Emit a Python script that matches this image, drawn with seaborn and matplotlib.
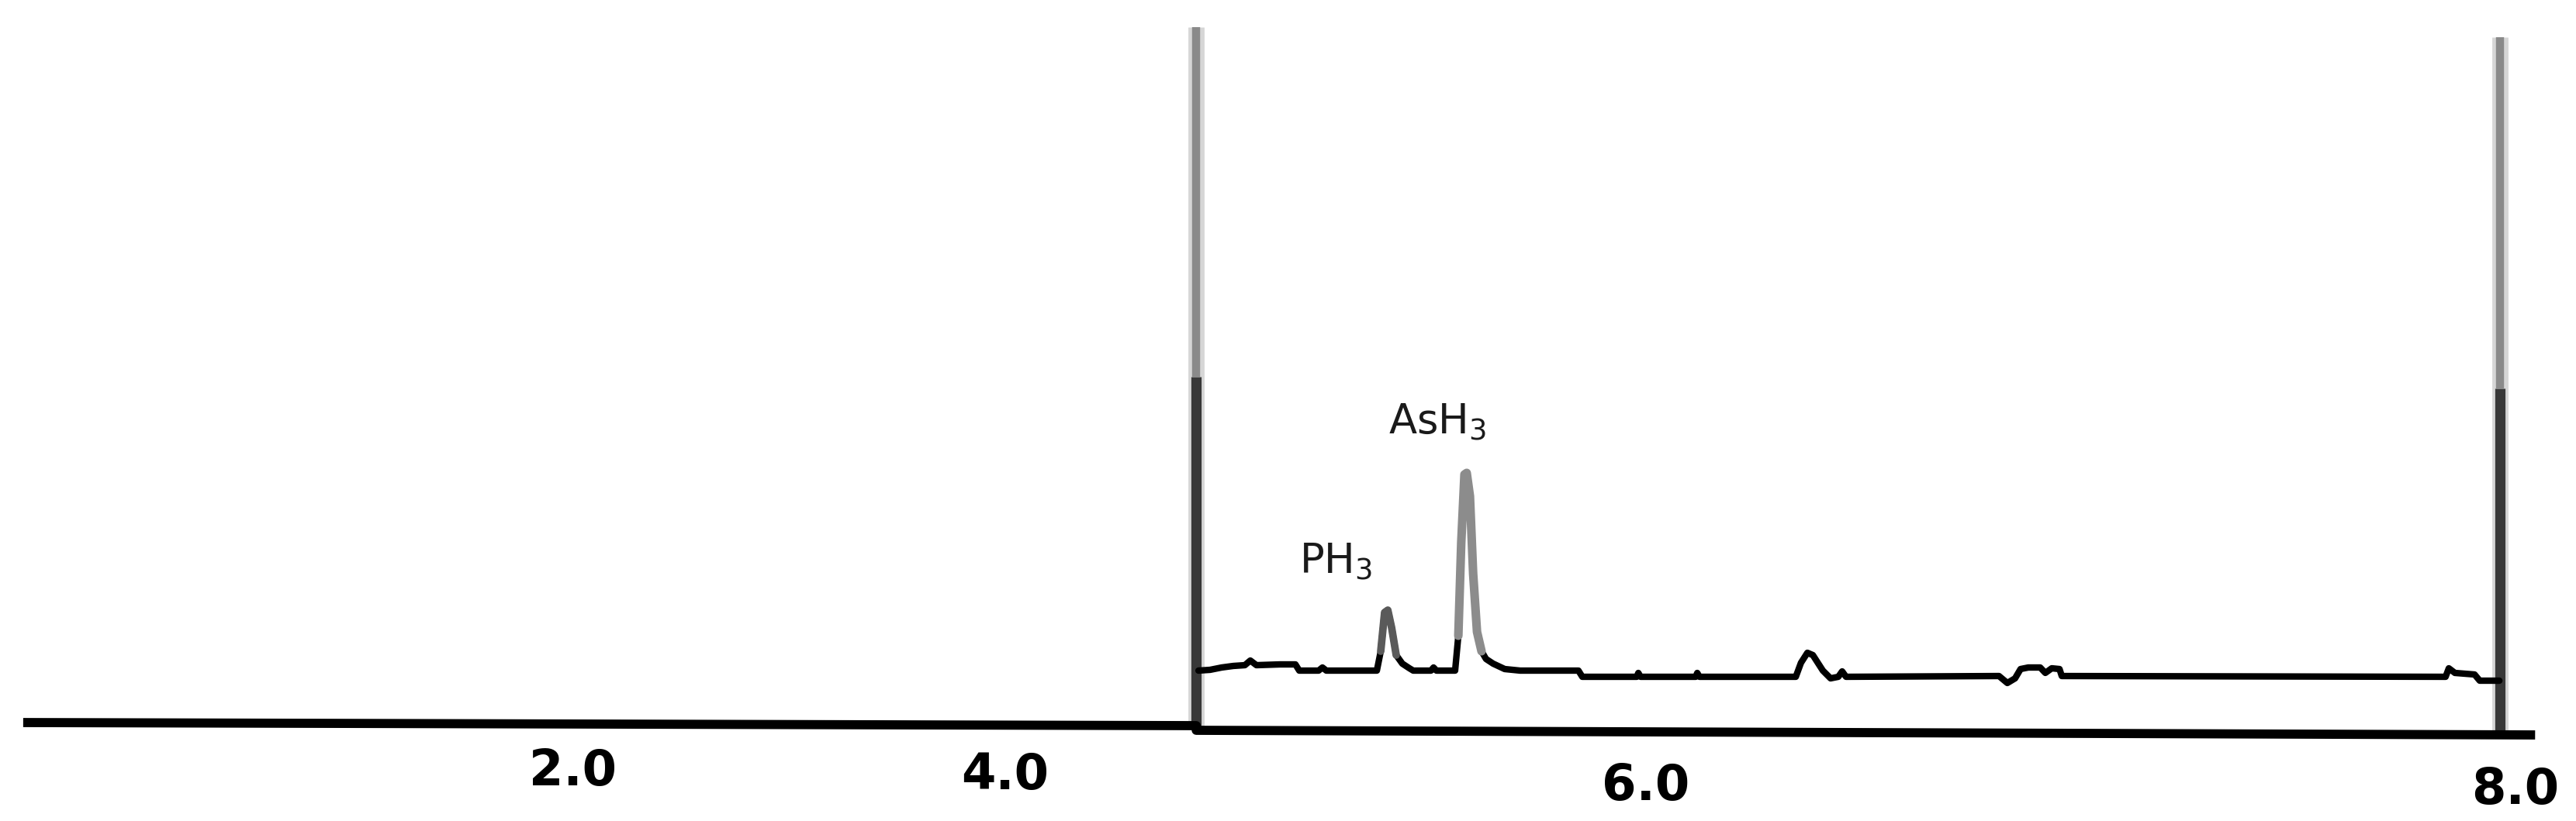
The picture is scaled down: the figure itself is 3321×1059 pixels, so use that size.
import matplotlib
matplotlib.use("Agg")
import matplotlib.pyplot as plt
import seaborn as sns
import numpy as np
import pandas as pd

# ---------------- data ----------------
# detector trace: retention time (min) and signal (arbitrary units)
trace_time = [3.722, 3.758, 3.794, 3.830, 3.866, 3.883, 3.902, 3.975, 4.023, 4.035,
              4.095, 4.107, 4.119, 4.276, 4.288, 4.300, 4.310, 4.322, 4.336, 4.355,
              4.377, 4.389, 4.444, 4.452, 4.461, 4.519, 4.529, 4.538, 4.548, 4.555,
              4.565, 4.575, 4.587, 4.601, 4.615, 4.637, 4.673, 4.721, 4.902, 4.914,
              5.083, 5.088, 5.095, 5.266, 5.271, 5.278, 5.577, 5.593, 5.613, 5.630,
              5.661, 5.685, 5.709, 5.721, 5.733, 6.208, 6.234, 6.258, 6.275, 6.299,
              6.336, 6.352, 6.372, 6.396, 6.403, 7.595, 7.605, 7.624, 7.685, 7.701,
              7.762]
trace_signal = [7.5, 7.6, 7.9, 8.1, 8.2, 8.8, 8.2, 8.3, 8.3, 7.5,
                7.5, 7.9, 7.5, 7.5, 10.0, 15.0, 15.3, 13.0, 9.5, 8.4,
                7.8, 7.5, 7.5, 7.9, 7.5, 7.5, 12.0, 24.0, 32.8, 33.0,
                30.0, 20.0, 12.5, 10.0, 9.0, 8.4, 7.7, 7.5, 7.5, 6.7,
                6.7, 7.2, 6.7, 6.7, 7.2, 6.7, 6.7, 8.5, 9.8, 9.5,
                7.5, 6.5, 6.7, 7.4, 6.7, 6.8, 5.9, 6.5, 7.7, 7.9,
                7.9, 7.2, 7.8, 7.7, 6.8, 6.7, 7.8, 7.2, 7.0, 6.2,
                6.2]

# zero line of the recorder
base_time = [0.072, 3.715, 3.715, 7.873]
base_signal = [0.8, 0.4, -0.2, -0.8]

# injection / end markers (off-scale spikes)
spike_time = [3.715, 7.764]
spike_top = [90.5, 89.2]
spike_mid = [45.4, 43.9]
spike_bottom = [0.4, -0.6]

# peak labels
peak_labels = ["PH$_3$", "AsH$_3$"]
peak_label_time = [4.148, 4.464]
peak_label_signal = [20.0, 38.0]
ph3_range = (4.288, 4.336)
ash3_range = (4.529, 4.601)

# x tick labels
tick_labels = ["2.0", "4.0", "6.0", "8.0"]
tick_time = [1.780, 3.122, 5.112, 7.812]
tick_signal = [-7.3, -7.8, -9.2, -9.7]

# ---------------- drawing ----------------
sns.set_theme(style="white")
plt.rcParams["font.family"] = ["DejaVu Sans"]
plt.rcParams["mathtext.default"] = "regular"
plt.rcParams["mathtext.fontset"] = "dejavusans"

fig = plt.figure(figsize=(33.21, 10.59), dpi=100)
fig.patch.set_facecolor("white")
ax = fig.add_axes([0, 0, 1, 1])
ax.set_xlim(0, 8)
ax.set_ylim(-11.9, 94.0)
ax.axis("off")

df_trace = pd.DataFrame({"time": trace_time, "signal": trace_signal})
df_base = pd.DataFrame({"time": base_time, "signal": base_signal})

# spikes: halo + grey upper + dark lower part
ax.vlines(spike_time, spike_bottom, spike_top, colors="#d6d6d6", linewidth=15, capstyle="butt", zorder=2)
ax.vlines(spike_time, spike_mid, spike_top, colors="#8a8a8a", linewidth=7.5, capstyle="butt", zorder=3)
ax.vlines(spike_time, spike_bottom, spike_mid, colors="#383838", linewidth=9.5, capstyle="butt", zorder=3)

# zero line
sns.lineplot(data=df_base, x="time", y="signal", sort=False, estimator=None,
             color="black", linewidth=8.5, ax=ax, solid_capstyle="butt", zorder=4)

# trace
sns.lineplot(data=df_trace, x="time", y="signal", sort=False, estimator=None,
             color="black", linewidth=6, ax=ax, solid_joinstyle="round", zorder=5)

# greyish peaks (as in the scanned original)
ash = df_trace[(df_trace.time >= ash3_range[0]) & (df_trace.time <= ash3_range[1])]
ph = df_trace[(df_trace.time >= ph3_range[0]) & (df_trace.time <= ph3_range[1])]
ax.plot(ash.time, ash.signal, color="#8c8c8c", linewidth=8, zorder=6)
ax.plot(ph.time, ph.signal, color="#5a5a5a", linewidth=7, zorder=6)

for lab, t, s in zip(peak_labels, peak_label_time, peak_label_signal):
    ax.text(t, s, lab, ha="center", va="baseline", fontsize=38, color="#1a1a1a", zorder=7)

for lab, t, s in zip(tick_labels, tick_time, tick_signal):
    ax.text(t, s, lab, ha="center", va="baseline", fontsize=46, fontweight="bold",
            color="black", zorder=7)

fig.savefig("out.png", dpi=100, facecolor="white")
